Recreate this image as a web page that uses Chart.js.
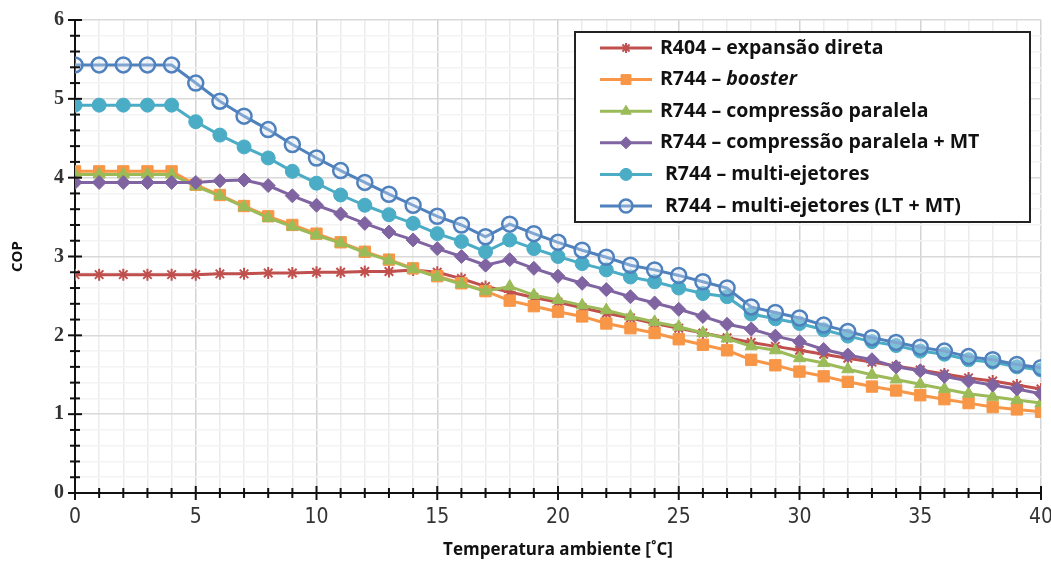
<!DOCTYPE html>
<html>
<head>
<meta charset="utf-8">
<script src="https://cdn.jsdelivr.net/npm/chart.js@4/dist/chart.umd.min.js"></script>
<style>
html,body{margin:0;padding:0;background:#fff;}
#wrap{width:1051px;height:568px;position:relative;}
</style>
</head>
<body>
<div id="wrap"><canvas id="c" width="1051" height="568"></canvas></div>
<script>
// ---- data ----
const temperatures = [0,1,2,3,4,5,6,7,8,9,10,11,12,13,14,15,16,17,18,19,20,21,22,23,24,25,26,27,28,29,30,31,32,33,34,35,36,37,38,39,40];
const seriesNames = [
  'R404 – expansão direta',
  'R744 – booster',
  'R744 – compressão paralela',
  'R744 – compressão paralela + MT',
  'R744 – multi-ejetores',
  'R744 – multi-ejetores (LT + MT)'
];
const r404Direct = [2.77,2.77,2.77,2.77,2.77,2.77,2.78,2.78,2.79,2.79,2.80,2.80,2.81,2.81,2.83,2.80,2.72,2.62,2.55,2.48,2.42,2.35,2.28,2.22,2.15,2.09,2.03,1.97,1.91,1.86,1.81,1.76,1.71,1.66,1.61,1.56,1.51,1.46,1.42,1.37,1.32];
const r744Booster = [4.08,4.08,4.08,4.08,4.08,3.91,3.78,3.64,3.51,3.40,3.29,3.18,3.06,2.96,2.85,2.75,2.66,2.56,2.44,2.37,2.30,2.24,2.15,2.09,2.03,1.95,1.88,1.81,1.69,1.62,1.54,1.48,1.41,1.35,1.30,1.24,1.19,1.14,1.09,1.06,1.03];
const r744Parallel = [4.04,4.04,4.04,4.04,4.04,3.89,3.77,3.63,3.49,3.38,3.27,3.17,3.05,2.95,2.84,2.74,2.65,2.56,2.62,2.51,2.45,2.38,2.32,2.24,2.17,2.11,2.03,1.96,1.86,1.81,1.71,1.65,1.57,1.50,1.44,1.38,1.32,1.26,1.22,1.18,1.14];
const r744ParallelMT = [3.94,3.94,3.94,3.94,3.94,3.94,3.96,3.97,3.90,3.77,3.65,3.54,3.42,3.31,3.21,3.10,3.00,2.89,2.96,2.85,2.75,2.66,2.58,2.49,2.41,2.33,2.24,2.14,2.08,1.99,1.92,1.82,1.75,1.69,1.60,1.55,1.48,1.42,1.37,1.32,1.26];
const r744Ejector = [4.92,4.92,4.92,4.92,4.92,4.71,4.54,4.39,4.25,4.08,3.93,3.78,3.65,3.53,3.42,3.29,3.19,3.06,3.21,3.10,3.00,2.91,2.83,2.74,2.68,2.60,2.53,2.49,2.27,2.21,2.15,2.07,1.99,1.92,1.87,1.80,1.76,1.69,1.66,1.60,1.56];
const r744EjectorLTMT = [5.43,5.43,5.43,5.43,5.43,5.20,4.97,4.78,4.61,4.42,4.25,4.09,3.94,3.79,3.65,3.51,3.40,3.25,3.41,3.29,3.18,3.08,2.99,2.89,2.83,2.76,2.68,2.60,2.36,2.29,2.22,2.13,2.05,1.97,1.91,1.85,1.80,1.73,1.69,1.63,1.59];
const xTickLabels = ['0','5','10','15','20','25','30','35','40'];
const yTickLabels = ['0','1','2','3','4','5','6'];

// ---- styles ----
const styles = [
  {color:'#C0504D', style:'star',    radius:6, fill:'#C0504D', bw:2,   order:6},
  {color:'#F79646', style:'rect',    radius:8, fill:'#F79646', bw:1,   order:5},
  {color:'#9BBB59', style:'triangle',radius:7, fill:'#9BBB59', bw:1,   order:4},
  {color:'#8064A2', style:'rectRot', radius:7, fill:'#8064A2', bw:1,   order:3},
  {color:'#4BACC6', style:'circle',  radius:7, fill:'#4BACC6', bw:1,   order:2},
  {color:'#4F81BD', style:'circle',  radius:7.5, fill:'rgba(220,232,245,0.35)', bw:2.5, order:1}
];
const values = [r404Direct, r744Booster, r744Parallel, r744ParallelMT, r744Ejector, r744EjectorLTMT];

const datasets = values.map((arr,i)=>({
  label: seriesNames[i],
  data: arr.map((v,k)=>({x:temperatures[k], y:v})),
  borderColor: styles[i].color,
  backgroundColor: styles[i].fill,
  borderWidth: 3,
  pointStyle: styles[i].style,
  pointRadius: styles[i].radius,
  pointHoverRadius: styles[i].radius,
  pointBackgroundColor: styles[i].fill,
  pointBorderColor: styles[i].color,
  pointBorderWidth: styles[i].bw,
  tension: 0,
  order: styles[i].order
}));

const isInt = v => Math.abs(v - Math.round(v)) < 1e-6;

// axis cross ticks
const axisTicks = {
  id:'axisTicks',
  afterDatasetsDraw(chart){
    const {ctx, scales:{x,y}} = chart;
    ctx.save();
    ctx.strokeStyle = '#111';
    ctx.lineWidth = 2;
    const y0 = y.getPixelForValue(0), x0 = x.getPixelForValue(0);
    for (let t = 0; t <= 40; t++) {
      const px = x.getPixelForValue(t);
      const h = (t % 5 === 0) ? 7 : 5;
      ctx.beginPath(); ctx.moveTo(px, y0 - h); ctx.lineTo(px, y0 + h); ctx.stroke();
    }
    for (let k = 0; k <= 30; k++) {
      const v = k * 0.2;
      const py = y.getPixelForValue(v);
      const h = (k % 5 === 0) ? 7 : 5;
      ctx.beginPath(); ctx.moveTo(x0 - h, py); ctx.lineTo(x0 + h, py); ctx.stroke();
    }
    ctx.restore();
  }
};

// boxed legend
const boxLegend = {
  id:'boxLegend',
  afterDraw(chart){
    const {ctx, chartArea:a} = chart;
    const x0 = a.right - 466, y0 = a.top + 12, w = 455, h = 190;
    ctx.save();
    ctx.fillStyle = '#fff';
    ctx.fillRect(x0, y0, w, h);
    ctx.strokeStyle = '#222';
    ctx.lineWidth = 2;
    ctx.strokeRect(x0, y0, w, h);
    const fs = 19.5;
    chart.data.datasets.forEach((ds,i)=>{
      const cy = y0 + 16 + i * 31.6;
      ctx.strokeStyle = ds.borderColor;
      ctx.lineWidth = 3;
      ctx.beginPath(); ctx.moveTo(x0 + 25, cy); ctx.lineTo(x0 + 77, cy); ctx.stroke();
      ctx.fillStyle = ds.pointBackgroundColor;
      ctx.strokeStyle = ds.pointBorderColor;
      ctx.lineWidth = ds.pointBorderWidth;
      Chart.helpers.drawPoint(ctx, {pointStyle: ds.pointStyle, rotation:0, radius: ds.pointRadius - 1, borderWidth: ds.pointBorderWidth}, x0 + 51, cy);
      ctx.fillStyle = '#111';
      ctx.textBaseline = 'middle';
      const tx = x0 + 85 + (i >= 4 ? 5 : 0);
      const label = ds.label;
      const ital = 'booster';
      ctx.font = 'bold ' + fs + 'px "Open Sans", sans-serif';
      if (label.endsWith(ital)) {
        const head = label.slice(0, label.length - ital.length);
        ctx.fillText(head, tx, cy);
        const wHead = ctx.measureText(head).width;
        ctx.font = 'italic bold ' + fs + 'px "Open Sans", sans-serif';
        ctx.fillText(ital, tx + wHead, cy);
      } else {
        ctx.fillText(label, tx, cy);
      }
    });
    ctx.restore();
  }
};

new Chart(document.getElementById('c'), {
  type: 'line',
  data: { datasets },
  plugins: [axisTicks, boxLegend],
  options: {
    responsive: false,
    animation: false,
    layout: { padding: { left: 0, right: 10, top: 20, bottom: 0 } },
    plugins: { legend: { display: false }, tooltip: { enabled: false } },
    scales: {
      x: {
        type: 'linear', min: 0, max: 40,
        afterFit(s){ s.height = 75; s.paddingLeft = 0; s.paddingRight = 0; },
        ticks: {
          stepSize: 1, autoSkip: false, maxRotation: 0, padding: 12,
          color: '#333',
          font: { family: '"DejaVu Sans Condensed", "Liberation Sans Narrow", sans-serif', size: 21 },
          callback: v => xTickLabels.includes(String(v)) ? String(v) : ''
        },
        grid: {
          drawTicks: false,
          color: c => (c.tick && c.tick.value % 5 === 0) ? '#d4d4d4' : '#ececec',
          lineWidth: 1.5
        },
        border: { color: '#111', width: 2 },
        title: {
          display: true, text: 'Temperatura ambiente [˚C]', color: '#111',
          font: { family: '"Open Sans", sans-serif', size: 17, weight: 'bold' },
          padding: { top: 0, bottom: 8 }
        }
      },
      y: {
        min: 0, max: 6,
        afterFit(s){ s.width = 75; s.paddingTop = 0; s.paddingBottom = 0; },
        ticks: {
          stepSize: 0.2, autoSkip: false, padding: 11,
          color: '#333',
          font: { family: '"Liberation Serif", "DejaVu Serif", serif', size: 20, weight: 'bold' },
          callback: v => isInt(v) && yTickLabels.includes(String(Math.round(v))) ? String(Math.round(v)) : ''
        },
        grid: {
          drawTicks: false,
          color: c => (c.tick && isInt(c.tick.value)) ? '#d9d9d9' : '#f3f3f3',
          lineWidth: 1.5
        },
        border: { color: '#111', width: 2 },
        title: {
          display: true, text: 'COP', color: '#111',
          font: { family: '"Open Sans", sans-serif', size: 15, weight: 'bold' },
          padding: { top: 9, bottom: 0 }
        }
      }
    }
  }
});
</script>
</body>
</html>
